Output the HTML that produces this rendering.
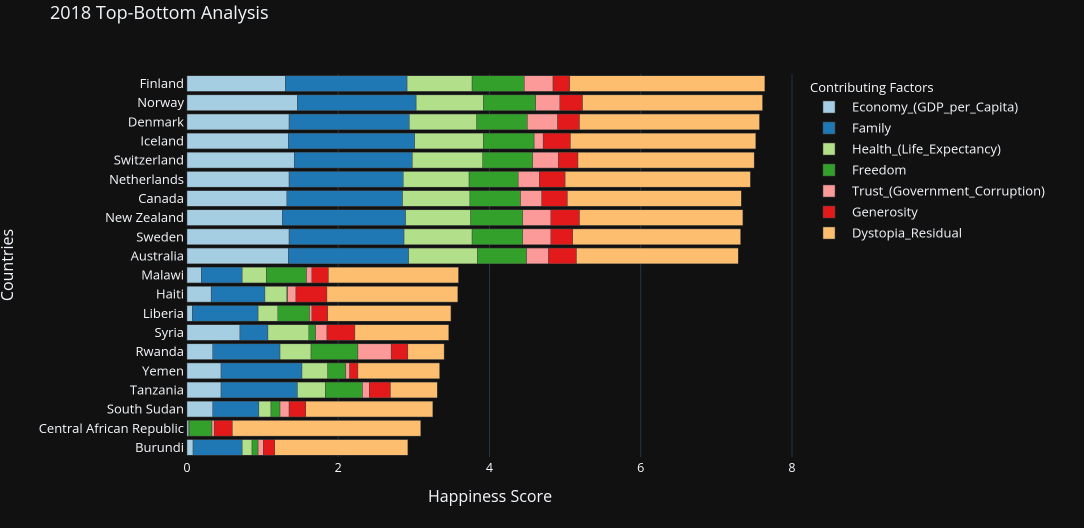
<!DOCTYPE html>
<html><head><meta charset="utf-8"><style>
html,body{margin:0;padding:0;background:#111111;}
svg{display:block;font-family:"Open Sans","Liberation Sans",sans-serif;}
</style></head><body>
<svg id="chart" width="1084" height="528" xmlns="http://www.w3.org/2000/svg">
<rect width="1084" height="528" fill="#111111"/>
<text x="50" y="19" fill="#f2f5fa" font-size="18">2018 Top-Bottom Analysis</text>
<g id="grid"></g>
<g id="bars"></g>
<g id="yticks"></g>
<g id="xticks"></g>
<text x="490" y="502" text-anchor="middle" fill="#f2f5fa" font-size="16">Happiness Score</text>
<text x="0" y="0" transform="translate(13,265) rotate(-90)" text-anchor="middle" fill="#f2f5fa" font-size="16">Countries</text>
<g id="legend">
<text x="810" y="92" fill="#f2f5fa" font-size="13">Contributing Factors</text>
</g>
</svg>
<script>
const countries=["Finland","Norway","Denmark","Iceland","Switzerland","Netherlands","Canada","New Zealand","Sweden","Australia","Malawi","Haiti","Liberia","Syria","Rwanda","Yemen","Tanzania","South Sudan","Central African Republic","Burundi"];
const factors=["Economy_(GDP_per_Capita)","Family","Health_(Life_Expectancy)","Freedom","Trust_(Government_Corruption)","Generosity","Dystopia_Residual"];
const colors=["#a6cee3","#1f78b4","#b2df8a","#33a02c","#fb9a99","#e31a1c","#fdbf6f"];
const economy=[1.30,1.46,1.35,1.34,1.42,1.35,1.32,1.26,1.35,1.34,0.19,0.32,0.07,0.70,0.34,0.45,0.45,0.34,0.02,0.08];
const family=[1.61,1.57,1.59,1.67,1.56,1.51,1.53,1.63,1.52,1.59,0.54,0.71,0.87,0.37,0.89,1.07,1.01,0.61,0.00,0.65];
const health=[0.86,0.89,0.89,0.91,0.93,0.87,0.89,0.86,0.90,0.91,0.32,0.29,0.26,0.54,0.41,0.34,0.37,0.16,0.01,0.13];
const freedom=[0.69,0.69,0.67,0.67,0.66,0.65,0.67,0.69,0.67,0.65,0.53,0.01,0.42,0.09,0.62,0.24,0.49,0.12,0.30,0.08];
const trust=[0.38,0.32,0.40,0.12,0.34,0.28,0.28,0.37,0.37,0.29,0.07,0.11,0.03,0.15,0.44,0.05,0.09,0.12,0.03,0.07];
const generosity=[0.22,0.30,0.29,0.36,0.26,0.34,0.34,0.38,0.29,0.37,0.22,0.41,0.21,0.37,0.22,0.11,0.28,0.22,0.24,0.15];
const dystopia=[2.58,2.38,2.38,2.45,2.33,2.45,2.30,2.16,2.22,2.14,1.72,1.73,1.63,1.24,0.48,1.08,0.62,1.68,2.49,1.76];
const xTicks=[0,2,4,6,8];
const series=[economy,family,health,freedom,trust,generosity,dystopia];
const NS="http://www.w3.org/2000/svg";
const x0=187,x1=792,xMax=8,yTop=74,yBot=457;
const xs=v=>x0+(x1-x0)*v/xMax;
const step=(yBot-yTop)/countries.length;
const ys=i=>yTop+step*(i+0.5);
function mk(tag,attrs,parent){const e=document.createElementNS(NS,tag);for(const k in attrs)e.setAttribute(k,attrs[k]);parent.appendChild(e);return e;}
const grid=document.getElementById('grid'),bars=document.getElementById('bars'),yt=document.getElementById('yticks'),xt=document.getElementById('xticks'),lg=document.getElementById('legend');
xTicks.forEach(t=>{
  if(t>0){const l=mk('line',{x1:xs(t),x2:xs(t),y1:yTop,y2:yBot,stroke:'#283442','stroke-width':1},grid);
  
  }
  const tx=mk('text',{x:xs(t),y:472,'text-anchor':'middle',fill:'#f2f5fa','font-size':12.5},xt);
  tx.textContent=t;
  
  
});
const bh=step*0.82;
countries.forEach((c,i)=>{
  let acc=0;
  series.forEach((s,k)=>{
    const v=s[i];
    const r=mk('rect',{x:xs(acc),y:ys(i)-bh/2,width:Math.max(0,xs(acc+v)-xs(acc)),height:bh,fill:colors[k],stroke:'#444','stroke-width':0.5},bars);
    
    
    acc+=v;
  });
  const t=mk('text',{x:184,y:ys(i)+4.5,'text-anchor':'end',fill:'#f2f5fa','font-size':13},yt);
  t.textContent=c;
  
  
});
factors.forEach((f,k)=>{
  const y=107+k*21;
  const g=mk('g',{},lg);
  
  
  mk('rect',{x:823,y:y-6,width:12,height:12,fill:colors[k],stroke:'#444','stroke-width':0.5},g);
  const t=mk('text',{x:852,y:y+4.5,fill:'#f2f5fa','font-size':13},g);
  t.textContent=f;
});
</script>
</body></html>
